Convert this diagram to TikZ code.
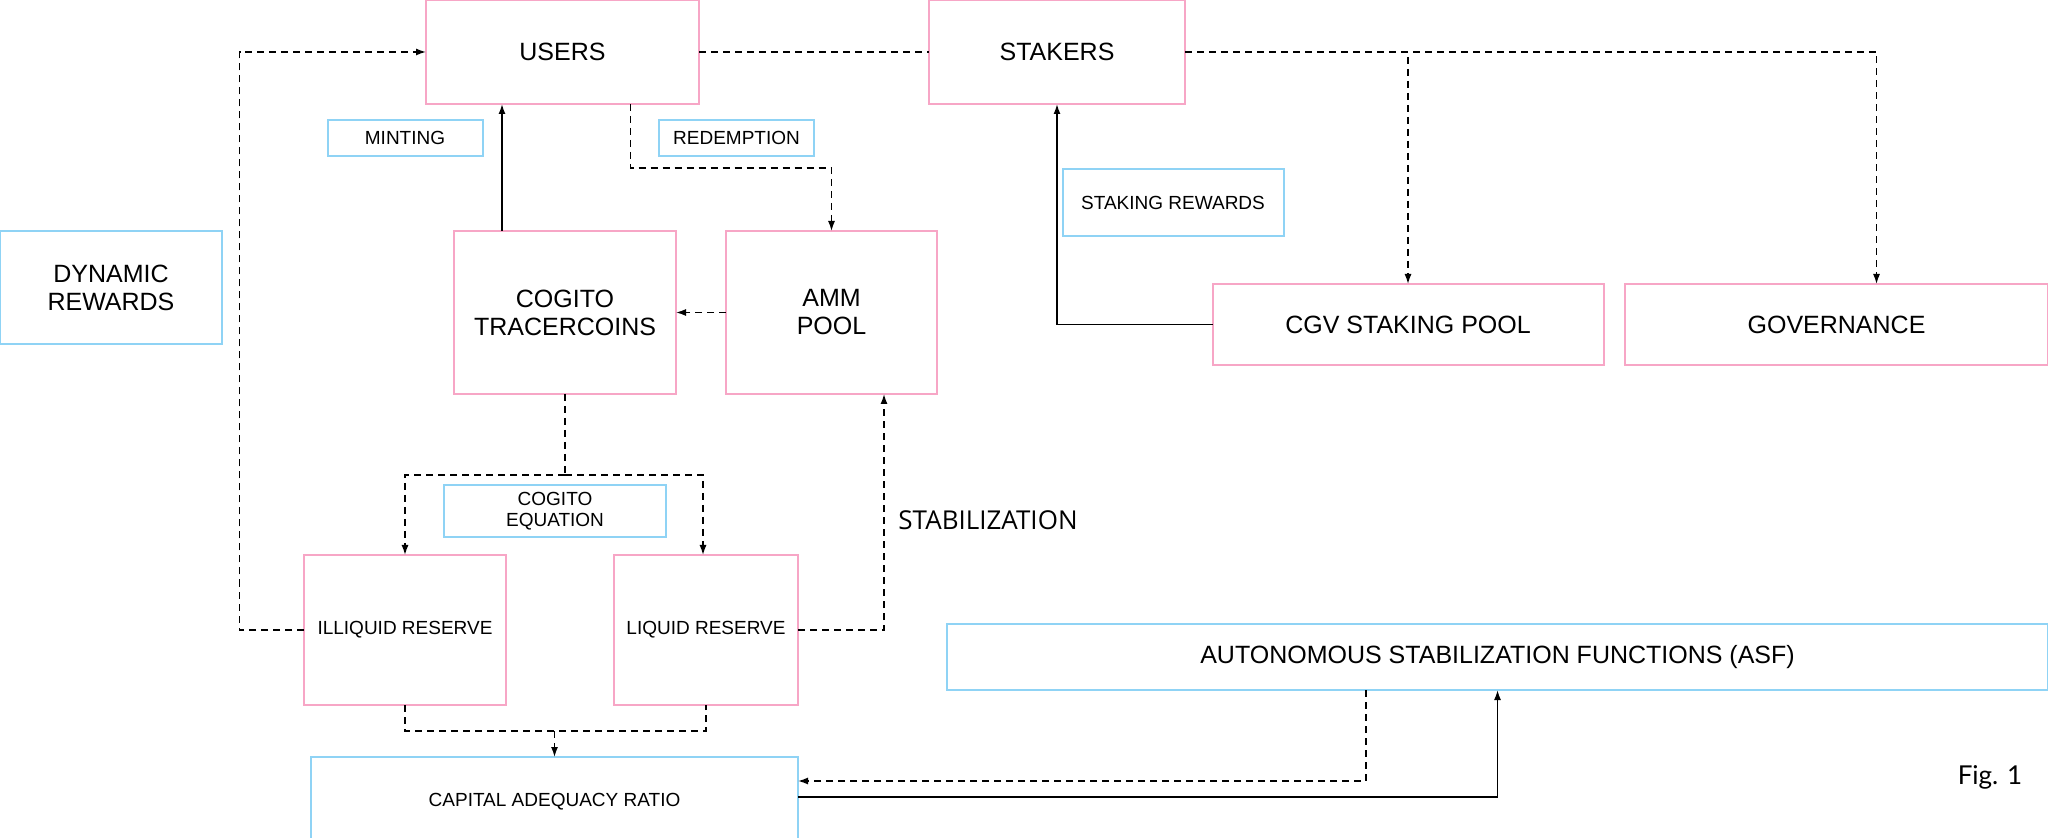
\documentclass[tikz,border=0pt]{standalone}
\usepackage{fontspec}
\setmainfont{Liberation Sans}
\newfontfamily\opensans{Open Sans}
\newfontfamily\latofont{Lato}
\usepackage{tikz}
\usetikzlibrary{arrows.meta}
\definecolor{boxpink}{HTML}{F7A6C6}
\definecolor{boxblue}{HTML}{8FD3F5}

\begin{document}
\begin{tikzpicture}[x=0.5pt, y=-0.5pt,
  mainbox/.style={draw=boxpink, line width=1pt, inner sep=0pt, outer sep=0pt, align=center,
    font=\fontsize{12.5}{14}\selectfont},
  tagbox/.style={draw=boxblue, line width=1pt, inner sep=0pt, outer sep=0pt, align=center,
    font=\fontsize{9.5}{10.5}\selectfont},
  flow/.style={line width=0.7pt, dash pattern=on 3.5pt off 2.5pt},
  solidflow/.style={line width=0.8pt},
  tip/.style={-{Latex[length=5pt,width=3.5pt]}}]
\useasboundingbox (0,0) rectangle (2048,838);
\node[mainbox, minimum width=136.5pt, minimum height=52pt] (users) at (562.5,52) {USERS};
\node[mainbox, minimum width=128pt, minimum height=52pt] (stakers) at (1057,52) {STAKERS};
\node[tagbox, minimum width=77.5pt, minimum height=18pt] (minting) at (405,138) {MINTING};
\node[tagbox, minimum width=77.5pt, minimum height=18pt] (redemption) at (736.5,138) {REDEMPTION};
\node[tagbox, minimum width=110.5pt, minimum height=33.5pt] (stakrew) at (1173,202.5) {STAKING REWARDS};
\node[tagbox, minimum width=111pt, minimum height=56.5pt, font=\fontsize{12.5}{14}\selectfont] (dynamic) at (111,287.5) {DYNAMIC\\REWARDS};
\node[mainbox, minimum width=111pt, minimum height=81.5pt] (cogito) at (565,312.5) {COGITO\\TRACERCOINS};
\node[mainbox, minimum width=105.5pt, minimum height=81.5pt] (amm) at (831.5,312.5) {AMM\\POOL};
\node[mainbox, minimum width=195.5pt, minimum height=40.5pt] (cgv) at (1408,324.5) {CGV STAKING POOL};
\node[mainbox, minimum width=211.5pt, minimum height=40.5pt] (gov) at (1836.5,324.5) {GOVERNANCE};
\node[tagbox, minimum width=111pt, minimum height=26pt] (equation) at (555,511) {COGITO\\EQUATION};
\node[mainbox, minimum width=101pt, minimum height=75pt, font=\fontsize{9.5}{10.5}\selectfont] (illiquid) at (405,630) {\raisebox{-5pt}{ILLIQUID RESERVE}};
\node[mainbox, minimum width=92pt, minimum height=75pt, font=\fontsize{9.5}{10.5}\selectfont] (liquid) at (706,630) {LIQUID RESERVE};
\node[tagbox, minimum width=243.5pt, minimum height=46pt] (car) at (554.5,803) {\raisebox{3pt}{CAPITAL ADEQUACY RATIO}};
\node[tagbox, minimum width=550.5pt, minimum height=33pt, font=\fontsize{12.5}{14}\selectfont] (asf) at (1497.5,657) {AUTONOMOUS STABILIZATION FUNCTIONS (ASF)};
\node[font=\opensans\fontsize{13}{15}\selectfont] (stab) at (988,520) {STABILIZATION};
\node[font=\latofont\fontsize{13}{15}\selectfont] (fig) at (1990,777) {Fig. 1};
\draw[flow, tip] (illiquid.west) -- ++(-64.5,0) |- (users.west);
\draw[flow] (users.east) -- (stakers.west);
\draw[flow, tip] (stakers.east) -| (cgv.north);
\draw[flow, tip] (stakers.east) -| ([xshift=20pt]gov.north);
\coordinate (mintup) at ([xshift=-31.5pt]cogito.north);
\draw[solidflow, tip] (mintup) -- (mintup |- users.south);
\draw[flow, tip] ([xshift=34pt]users.south) -- ++(0,64) -| (amm.north);
\draw[flow, tip] (amm.west) -- (cogito.east);
\draw[solidflow, tip] (cgv.west) -| (stakers.south);
\coordinate (split) at ([yshift=-40.5pt]cogito.south);
\draw[flow] (cogito.south) -- (split);
\draw[flow, tip] (split) -| (illiquid.north);
\draw[flow, tip] (split) -| ([xshift=-1.5pt]liquid.north);
\draw[flow, tip] (liquid.east) -| ([xshift=26.25pt]amm.south);
\coordinate (join) at ([yshift=13pt]car.north);
\draw[flow] (illiquid.south) |- (join) -| (liquid.south);
\draw[flow, tip] (join) -- (car.north);
\draw[flow, tip] ([xshift=-65.75pt]asf.south) |- ([yshift=11pt]car.east);
\draw[solidflow, tip] ([yshift=3pt]car.east) -| (asf.south);
\end{tikzpicture}
\end{document}
